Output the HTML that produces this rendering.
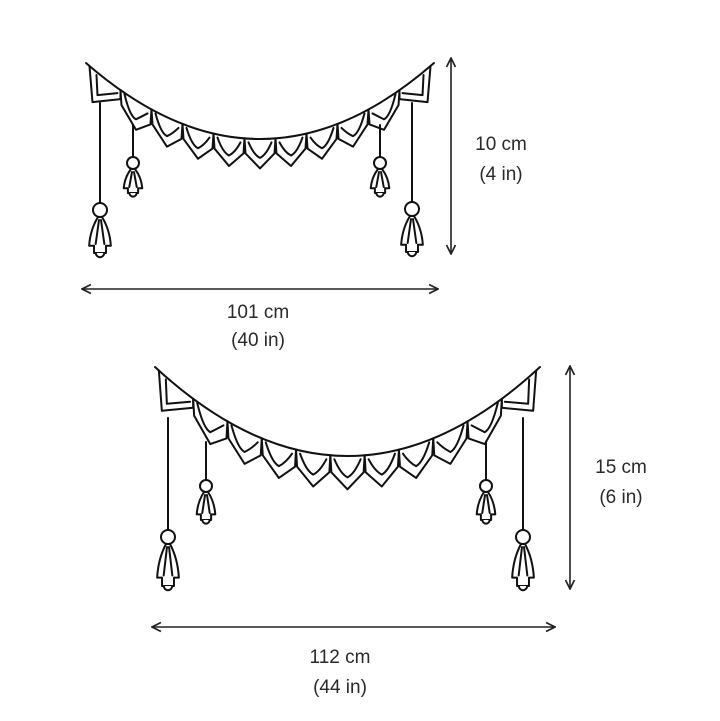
<!DOCTYPE html>
<html><head><meta charset="utf-8"><style>
html,body{margin:0;padding:0;background:#fff;width:720px;height:721px;overflow:hidden}
svg{display:block}
text{font-family:"Liberation Sans",sans-serif;font-size:19px;fill:#2a2a2a;text-anchor:middle}
</style></head><body>
<svg id="s" width="720" height="721" viewBox="0 0 720 721" xmlns="http://www.w3.org/2000/svg">
<defs>
<marker id="a" viewBox="0 0 10 10" refX="9" refY="5" markerWidth="7" markerHeight="7" orient="auto-start-reverse"><path d="M1,1 L9,5 L1,9" fill="none" stroke="#222" stroke-width="1.5"/></marker>
</defs>
<g stroke="#222" stroke-width="1.6" marker-start="url(#a)" marker-end="url(#a)">
<line x1="451" y1="58" x2="451" y2="254"/>
<line x1="82" y1="289" x2="438" y2="289"/>
<line x1="570" y1="366" x2="570" y2="589"/>
<line x1="152" y1="627" x2="555" y2="627"/>
</g>
<text x="501" y="150">10 cm</text><text x="501" y="180">(4 in)</text>
<text x="258" y="318">101 cm</text><text x="258" y="346">(40 in)</text>
<text x="621" y="473">15 cm</text><text x="621" y="503">(6 in)</text>
<text x="340" y="663">112 cm</text><text x="340" y="693">(44 in)</text>
<g id="g" fill="none" stroke="#111" stroke-width="2" stroke-linejoin="round" stroke-linecap="round"></g>
</svg>
<script>
var g=document.getElementById('g'),out='';
function P(d,f){out+='<path d="'+d+'" fill="'+(f||'none')+'"/>';}
function garland(x0,x1,y0,ymid,n,depth,strs){
 var cx=(x0+x1)/2,cy=2*ymid-y0;
 function pt(t){return [(1-t)*(1-t)*x0+2*t*(1-t)*cx+t*t*x1,(1-t)*(1-t)*y0+2*t*(1-t)*cy+t*t*y0];}
 P('M'+x0+','+y0+' Q'+cx+','+cy+' '+x1+','+y0);
 var a=0.01,b=0.99;
 for(var i=0;i<n;i++){
  var p=pt(a+(b-a)*i/n),q=pt(a+(b-a)*(i+1)/n);
  var mx=(p[0]+q[0])/2,my=(p[1]+q[1])/2;
  var end=(i==0||i==n-1),w=q[0]-p[0];
  var d=depth;
  if(end){
   if(i==0){
    var by=q[1]+9;
    P('M'+p[0]+','+p[1]+' L'+(p[0]+3)+','+(by+3)+' L'+q[0]+','+by+' L'+q[0]+','+q[1]);
    P('M'+(p[0]+7)+','+(p[1]+9)+' L'+(p[0]+8)+','+(by-4)+' L'+(q[0]-3)+','+(by-6));
   } else {
    var by=p[1]+9;
    P('M'+q[0]+','+q[1]+' L'+(q[0]-3)+','+(by+3)+' L'+p[0]+','+by+' L'+p[0]+','+p[1]);
    P('M'+(q[0]-7)+','+(q[1]+9)+' L'+(q[0]-8)+','+(by-4)+' L'+(p[0]+3)+','+(by-6));
   }
  } else {
   var tipx=mx,tipy=my+d;
   P('M'+p[0]+','+p[1]+' L'+(p[0]+1)+','+(p[1]+d*0.5)+' L'+tipx+','+tipy+' L'+(q[0]-1)+','+(q[1]+d*0.5)+' L'+q[0]+','+q[1]);
   P('M'+(p[0]+4)+','+(p[1]+4)+' Q'+(p[0]+w*0.3)+','+(my+d*0.55)+' '+tipx+','+(tipy-d*0.35)+' Q'+(q[0]-w*0.3)+','+(my+d*0.55)+' '+(q[0]-4)+','+(q[1]+4));
  }
 }
 strs.forEach(function(s){
  var x=s[0],y1=s[1],by=s[2],r=s[3],L=s[4];
  P('M'+x+','+y1+' L'+x+','+(by-r));
  out+='<circle cx="'+x+'" cy="'+by+'" r="'+r+'" fill="#fff"/>';
  var t=by+r, hw=r*1.55;
  P('M'+(x-2)+','+t+' Q'+(x-hw*0.9)+','+(t+L*0.35)+' '+(x-hw)+','+(t+L*0.8)+' L'+(x-hw*0.55)+','+(t+L*0.8)+' L'+(x-hw*0.55)+','+(t+L)+' L'+(x+hw*0.55)+','+(t+L)+' L'+(x+hw*0.55)+','+(t+L*0.8)+' L'+(x+hw)+','+(t+L*0.8)+' Q'+(x+hw*0.9)+','+(t+L*0.35)+' '+(x+2)+','+t+' Z','#fff');
  P('M'+(x-1)+','+(t+3)+' L'+(x-hw*0.4)+','+(t+L*0.75)+' M'+(x+1)+','+(t+3)+' L'+(x+hw*0.4)+','+(t+L*0.75));
  var br=r*0.6;
  P('M'+(x-br)+','+(t+L)+' A'+br+','+br+' 0 0 0 '+(x+br)+','+(t+L),'#fff');
 });
}
garland(86,434,63,139,11,30,[[100,103,210,7,36],[133,125,163,6,24],[380,125,163,6,24],[412,103,209,7,36]]);
garland(155,540,367,456,11,34,[[168,418,537,7,42],[206,442,486,6,28],[486,442,486,6,28],[523,418,537,7,42]]);
g.innerHTML=out;
</script>
</body></html>
